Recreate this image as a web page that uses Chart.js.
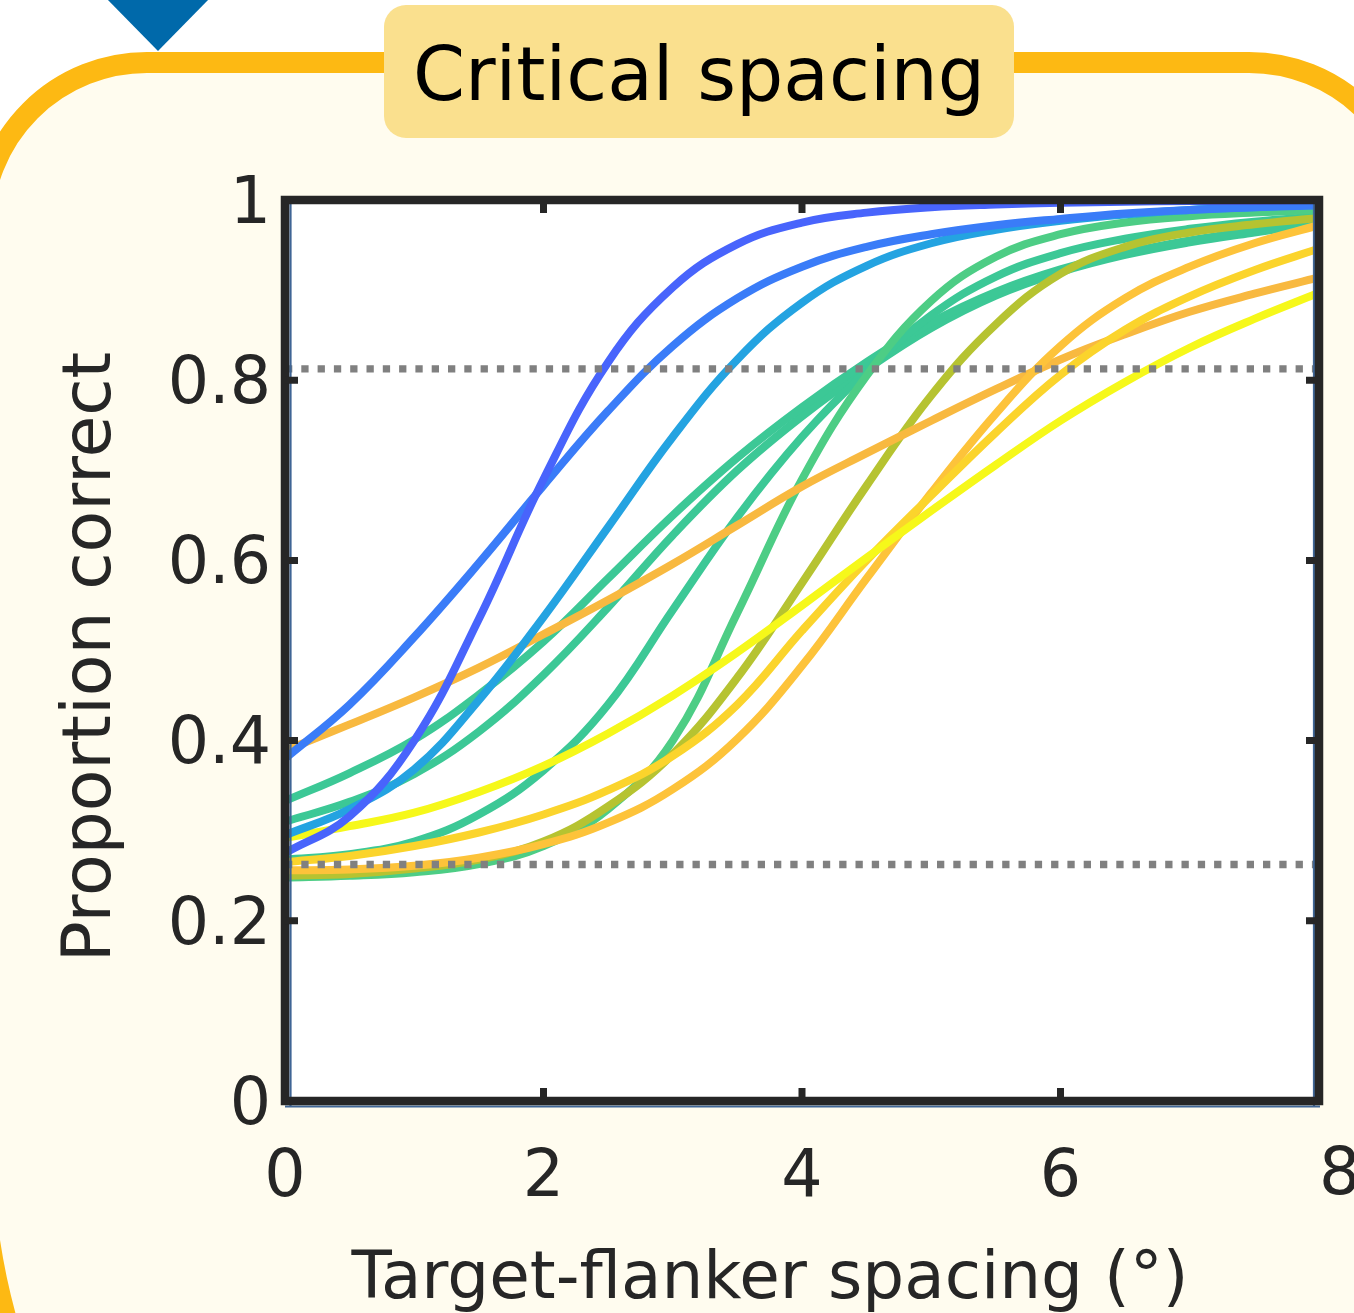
<!DOCTYPE html>
<html>
<head>
<meta charset="utf-8">
<script src="https://cdn.jsdelivr.net/npm/chart.js@4.4.1/dist/chart.umd.min.js"></script>
<style>
html,body{margin:0;padding:0;background:#fff;overflow:hidden}
canvas{display:block}
</style>
</head>
<body>
<canvas id="c" width="1354" height="1313"></canvas>
<script>
// ---------- DATA ----------
const titleText = 'Critical spacing';
const xTitle = 'Target-flanker spacing (°)';
const yTitle = 'Proportion correct';

const spacing = [0, 0.5, 1, 1.5, 2, 2.5, 3, 3.5, 4, 4.5, 5, 5.5, 6, 6.5, 7, 7.5, 8];

const curveDarkBlue  = [0.275, 0.316, 0.400, 0.535, 0.690, 0.820, 0.903, 0.951, 0.975, 0.986, 0.992, 0.995, 0.997, 0.998, 0.999, 0.999, 1.000];
const curveBlue      = [0.380, 0.440, 0.515, 0.597, 0.683, 0.766, 0.838, 0.891, 0.926, 0.948, 0.962, 0.972, 0.979, 0.985, 0.989, 0.992, 0.994];
const curveLightBlue = [0.295, 0.324, 0.368, 0.445, 0.537, 0.637, 0.737, 0.823, 0.886, 0.927, 0.952, 0.967, 0.977, 0.984, 0.989, 0.992, 0.995];
const curveGreen1    = [0.333, 0.364, 0.401, 0.451, 0.510, 0.580, 0.650, 0.714, 0.770, 0.820, 0.864, 0.898, 0.923, 0.941, 0.955, 0.966, 0.976];
const curveGreen2    = [0.310, 0.332, 0.363, 0.410, 0.473, 0.548, 0.628, 0.700, 0.760, 0.812, 0.858, 0.894, 0.920, 0.939, 0.953, 0.964, 0.974];
const curveGreen3    = [0.268, 0.274, 0.288, 0.318, 0.367, 0.440, 0.545, 0.648, 0.737, 0.810, 0.872, 0.915, 0.941, 0.957, 0.968, 0.976, 0.982];
const curveGreen4    = [0.248, 0.250, 0.254, 0.263, 0.283, 0.324, 0.400, 0.542, 0.690, 0.805, 0.888, 0.937, 0.962, 0.975, 0.982, 0.986, 0.989];
const curveOlive     = [0.250, 0.252, 0.258, 0.268, 0.288, 0.327, 0.385, 0.470, 0.575, 0.683, 0.783, 0.862, 0.918, 0.948, 0.964, 0.973, 0.980];
const curveOrange    = [0.389, 0.418, 0.448, 0.481, 0.518, 0.556, 0.596, 0.639, 0.682, 0.719, 0.755, 0.790, 0.823, 0.851, 0.876, 0.896, 0.914];
const curveAmber     = [0.256, 0.257, 0.261, 0.270, 0.285, 0.309, 0.346, 0.402, 0.483, 0.580, 0.675, 0.763, 0.838, 0.891, 0.926, 0.952, 0.972];
const curveGold      = [0.265, 0.272, 0.283, 0.298, 0.318, 0.345, 0.383, 0.440, 0.522, 0.600, 0.672, 0.742, 0.806, 0.856, 0.893, 0.922, 0.946];
const curveYellow    = [0.292, 0.305, 0.320, 0.343, 0.372, 0.408, 0.450, 0.498, 0.550, 0.603, 0.655, 0.706, 0.755, 0.798, 0.836, 0.868, 0.897];

const thresholds = [0.2625, 0.8125];
const xTickValues = [0, 2, 4, 6, 8];
const yTickValues = [0, 0.2, 0.4, 0.6, 0.8, 1];

// ---------- STYLE ----------
const curves = [
  {data: curveGreen2,    color: '#3CC896'},
  {data: curveGreen1,    color: '#3CC896'},
  {data: curveGreen3,    color: '#3CC896'},
  {data: curveGreen4,    color: '#4DCD85'},
  {data: curveOlive,     color: '#B6C331'},
  {data: curveOrange,    color: '#F8B940'},
  {data: curveAmber,     color: '#FDC33A'},
  {data: curveGold,      color: '#FBD42C'},
  {data: curveYellow,    color: '#F6F81A'},
  {data: curveLightBlue, color: '#24A3E1'},
  {data: curveBlue,      color: '#3A7CF8'},
  {data: curveDarkBlue,  color: '#4864FC'}
];

const AXIS = '#262626';
const FONT = '"DejaVu Sans", sans-serif';

const datasets = curves.map((c, i) => ({
  data: spacing.map((x, k) => ({x: x, y: c.data[k]})),
  borderColor: c.color,
  borderWidth: 8,
  pointRadius: 0,
  fill: false,
  tension: 0.4,
  order: 100 - i
}));
thresholds.forEach(t => {
  datasets.push({
    data: [{x: xTickValues[0], y: t}, {x: xTickValues[xTickValues.length - 1], y: t}],
    borderColor: '#808080',
    borderWidth: 7.3,
    borderDash: [7.3, 9.0],
    borderCapStyle: 'butt',
    pointRadius: 0,
    fill: false,
    tension: 0,
    order: 0
  });
});

function roundRectPath(ctx, x, y, w, h, r) {
  ctx.beginPath();
  ctx.moveTo(x + r, y);
  ctx.lineTo(x + w - r, y);
  ctx.arc(x + w - r, y + r, r, -Math.PI / 2, 0);
  ctx.lineTo(x + w, y + h - r);
  ctx.arc(x + w - r, y + h - r, r, 0, Math.PI / 2);
  ctx.lineTo(x + r, y + h);
  ctx.arc(x + r, y + h - r, r, Math.PI / 2, Math.PI);
  ctx.lineTo(x, y + r);
  ctx.arc(x + r, y + r, r, Math.PI, Math.PI * 1.5);
  ctx.closePath();
}

function framePath(ctx) {
  ctx.beginPath();
  ctx.moveTo(655, 1813);
  ctx.arc(655, 1140, 673, Math.PI / 2, Math.PI);
  ctx.lineTo(-18, 227.5);
  ctx.arc(147, 227.5, 165, Math.PI, Math.PI * 1.5);
  ctx.lineTo(1249, 62.5);
  ctx.arc(1249, 227.5, 165, Math.PI * 1.5, Math.PI * 2);
  ctx.lineTo(1414, 1813);
  ctx.closePath();
}

const decor = {
  id: 'decor',
  beforeDraw(chart) {
    const ctx = chart.ctx;
    ctx.save();
    ctx.fillStyle = '#ffffff';
    ctx.fillRect(0, 0, chart.width, chart.height);
    // panel frame
    framePath(ctx);
    ctx.fillStyle = '#FFFCEF';
    ctx.fill();
    ctx.lineWidth = 21;
    ctx.strokeStyle = '#FDB913';
    ctx.stroke();
    // marker triangle
    ctx.beginPath();
    ctx.moveTo(106, -2); ctx.lineTo(210, -2); ctx.lineTo(158, 51); ctx.closePath();
    ctx.fillStyle = '#0069AA';
    ctx.fill();
    // title badge
    roundRectPath(ctx, 384, 5, 630, 133, 22);
    ctx.fillStyle = '#FAE08E';
    ctx.fill();
    ctx.fillStyle = '#000000';
    ctx.font = '74.5px ' + FONT;
    ctx.textAlign = 'center';
    ctx.textBaseline = 'alphabetic';
    ctx.fillText(titleText, 699, 100);
    // plot background
    const a = chart.chartArea;
    ctx.fillStyle = '#ffffff';
    ctx.fillRect(a.left, a.top, a.right - a.left, a.bottom - a.top);
    ctx.restore();
  },
  afterDatasetsDraw(chart) {
    const ctx = chart.ctx;
    const a = chart.chartArea;
    const xs = chart.scales.x, ys = chart.scales.y;
    ctx.save();
    // thin blue under-lines
    ctx.strokeStyle = '#3F6595';
    ctx.lineWidth = 2.2;
    ctx.beginPath();
    ctx.moveTo(a.left + 5.5, a.top); ctx.lineTo(a.left + 5.5, a.bottom + 5);
    ctx.moveTo(a.left, a.bottom + 5.5); ctx.lineTo(a.right + 1, a.bottom + 5.5);
    ctx.moveTo(a.right - 5, a.top + 4); ctx.lineTo(a.right - 5, a.bottom + 5);
    ctx.stroke();
    // box
    ctx.strokeStyle = AXIS;
    ctx.lineWidth = 8.5;
    ctx.lineJoin = 'miter';
    ctx.strokeRect(a.left, a.top, a.right - a.left, a.bottom - a.top);
    // inward ticks
    ctx.lineWidth = 7;
    ctx.lineCap = 'butt';
    ctx.beginPath();
    xTickValues.slice(1, -1).forEach(v => {
      const px = xs.getPixelForValue(v);
      ctx.moveTo(px, a.bottom); ctx.lineTo(px, a.bottom - 13);
      ctx.moveTo(px, a.top); ctx.lineTo(px, a.top + 13);
    });
    yTickValues.slice(1, -1).forEach(v => {
      const py = ys.getPixelForValue(v);
      ctx.moveTo(a.left, py); ctx.lineTo(a.left + 13, py);
      ctx.moveTo(a.right, py); ctx.lineTo(a.right - 13, py);
    });
    ctx.stroke();
    ctx.restore();
  },
  afterDraw(chart) {
    const ctx = chart.ctx;
    ctx.save();
    ctx.fillStyle = AXIS;
    ctx.textAlign = 'center';
    ctx.textBaseline = 'alphabetic';
    ctx.font = '66px ' + FONT;
    ctx.fillText(xTitle, 770, 1298);
    ctx.translate(110, 657);
    ctx.rotate(-Math.PI / 2);
    ctx.font = '68px ' + FONT;
    ctx.fillText(yTitle, 0, 0);
    ctx.restore();
  }
};

const tickFont = {family: FONT, size: 65};

new Chart(document.getElementById('c'), {
  type: 'line',
  data: {datasets: datasets},
  options: {
    responsive: false,
    animation: false,
    devicePixelRatio: 1,
    layout: {padding: {left: 45, top: 200, right: 35, bottom: 0}},
    plugins: {legend: {display: false}, tooltip: {enabled: false}, title: {display: false}},
    scales: {
      x: {
        type: 'linear', position: 'bottom', min: 0, max: 8, weight: 1,
        afterBuildTicks: s => { s.ticks = xTickValues.slice(0, -1).map(v => ({value: v})); },
        afterFit: s => { s.height = 212; s.paddingLeft = 0; s.paddingRight = 0; },
        grid: {display: false, drawTicks: false},
        border: {display: false},
        ticks: {color: AXIS, font: tickFont, padding: 39, maxRotation: 0, autoSkip: false,
                callback: v => String(v)},
        title: {display: false}
      },
      xEnd: {
        type: 'linear', axis: 'x', position: 'bottom', min: 0, max: 8, weight: 0,
        afterBuildTicks: s => { s.ticks = xTickValues.slice(-1).map(v => ({value: v})); },
        afterFit: s => { s.height = 0; s.paddingLeft = 0; s.paddingRight = 0; },
        grid: {display: false, drawTicks: false},
        border: {display: false},
        ticks: {color: AXIS, font: tickFont, mirror: true, padding: -115.5, maxRotation: 0, autoSkip: false, align: 'start',
                callback: v => String(v)},
        title: {display: false}
      },
      y: {
        type: 'linear', min: 0, max: 1,
        afterBuildTicks: s => { s.ticks = yTickValues.map(v => ({value: v})); },
        afterFit: s => { s.width = 240; s.paddingTop = 0; s.paddingBottom = 0; },
        grid: {display: false, drawTicks: false},
        border: {display: false},
        ticks: {color: AXIS, font: tickFont, padding: 14, labelOffset: 6, autoSkip: false,
                callback: v => String(Math.round(v * 10) / 10)},
        title: {display: false}
      }
    }
  },
  plugins: [decor]
});
</script>
</body>
</html>
